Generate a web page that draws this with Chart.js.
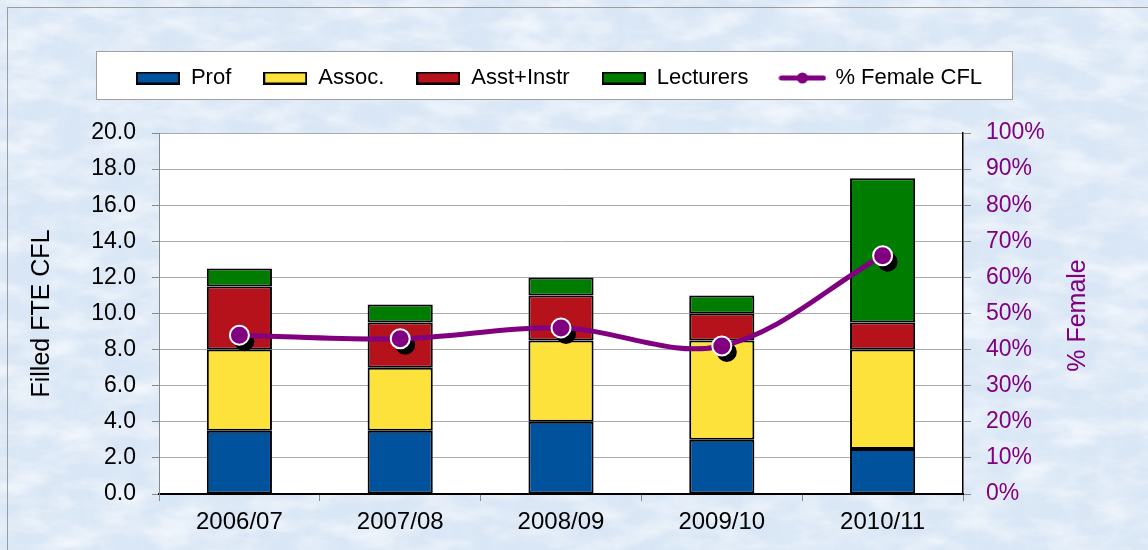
<!DOCTYPE html>
<html>
<head>
<meta charset="utf-8">
<script src="https://cdn.jsdelivr.net/npm/chart.js@4/dist/chart.umd.min.js"></script>
<style>
  html, body { margin: 0; padding: 0; width: 1148px; height: 550px; overflow: hidden; }
  body { background-color: #d9e6f5; position: relative; }
  #frame { position: absolute; left: 7px; top: 7px; width: 1300px; height: 700px;
           border-top: 1px solid #9c9c9c; border-left: 1px solid #9c9c9c; }
  #wrap { position: absolute; left: 0; top: 0; width: 1148px; height: 550px; }
</style>
</head>
<body>
<div id="frame"></div>
<div id="wrap"><canvas id="c" width="1148" height="550"></canvas></div>
<script>
// ---- data ----
const categories = ['2006/07', '2007/08', '2008/09', '2009/10', '2010/11'];
const profValues = [3.5, 3.5, 4.0, 3.0, 2.5];
const assocValues = [4.5, 3.5, 4.5, 5.5, 5.5];
const asstInstrValues = [3.5, 2.5, 2.5, 1.5, 1.5];
const lecturerValues = [1.0, 1.0, 1.0, 1.0, 8.0];
const pctFemaleValues = [44, 43, 46, 41, 66];
const seriesLabels = ['Prof', 'Assoc.', 'Asst+Instr', 'Lecturers', '% Female CFL'];
const leftTickStep = 2, leftMax = 20;
const rightTickStep = 10, rightMax = 100;
const leftTitle = 'Filled FTE CFL';
const rightTitle = '% Female';

// ---- styles ----
const FONT = '"Liberation Sans", Arial, sans-serif';
const colors = ['#00529c', '#fde23c', '#b5121b', '#007d00'];
const purple = '#800080';

// textured background
(function () {
  const svg = "<svg xmlns='http://www.w3.org/2000/svg' width='1148' height='550'>" +
    "<filter id='f'><feTurbulence type='fractalNoise' baseFrequency='0.02 0.05' numOctaves='4' seed='7'/>" +
    "<feColorMatrix type='matrix' values='0 0 0 0 1  0 0 0 0 1  0 0 0 0 1  1.3 0 0 0 -0.5'/></filter>" +
    "<filter id='g'><feTurbulence type='fractalNoise' baseFrequency='0.05 0.02' numOctaves='3' seed='2'/>" +
    "<feColorMatrix type='matrix' values='0 0 0 0 0.74  0 0 0 0 0.84  0 0 0 0 0.95  0 1.2 0 0 -0.5'/></filter>" +
    "<rect width='100%' height='100%' fill='#d9e6f5'/>" +
    "<rect width='100%' height='100%' filter='url(#g)'/>" +
    "<rect width='100%' height='100%' filter='url(#f)'/></svg>";
  document.body.style.backgroundImage = 'url("data:image/svg+xml,' + encodeURIComponent(svg) + '")';
})();

function boxImage(fill) {
  const c = document.createElement('canvas');
  c.width = 44; c.height = 13;
  const x = c.getContext('2d');
  x.fillStyle = fill; x.fillRect(0, 0, 44, 13);
  x.strokeStyle = '#000'; x.lineWidth = 2; x.strokeRect(1, 1, 42, 11);
  return c;
}
function lineImage() {
  const c = document.createElement('canvas');
  c.width = 48; c.height = 14;
  const x = c.getContext('2d');
  x.strokeStyle = purple; x.lineWidth = 5; x.lineCap = 'round';
  x.beginPath(); x.moveTo(3, 7); x.lineTo(45, 7); x.stroke();
  x.fillStyle = purple; x.beginPath(); x.arc(24, 7, 5.5, 0, Math.PI * 2); x.fill();
  return c;
}
const legendImages = [boxImage(colors[0]), boxImage(colors[1]), boxImage(colors[2]), boxImage(colors[3]), lineImage()];

const bgPlugin = {
  id: 'bgPlugin',
  beforeInit(chart) {
    const origFit = chart.legend.fit;
    chart.legend.fit = function () { origFit.call(this); this.height = 98; };
  },
  beforeDraw(chart) {
    const ctx = chart.ctx, a = chart.chartArea;
    ctx.save();
    ctx.fillStyle = '#ffffff';
    ctx.fillRect(a.left, a.top, a.right - a.left, a.bottom - a.top);
    // legend box
    ctx.fillRect(96, 52, 916, 48);
    ctx.strokeStyle = '#a0a0a0'; ctx.lineWidth = 1;
    ctx.strokeRect(96.5, 51.5, 916, 48);
    ctx.restore();
  },
  beforeDatasetDraw(chart, args) {
    if (chart.data.datasets[args.index].type !== 'line') return;
    const ctx = chart.ctx;
    ctx.save();
    ctx.fillStyle = '#000';
    args.meta.data.forEach(p => {
      ctx.beginPath(); ctx.arc(p.x + 5, p.y + 6, 10, 0, Math.PI * 2); ctx.fill();
    });
    ctx.restore();
  },
  afterDraw(chart) {
    const ctx = chart.ctx, a = chart.chartArea;
    ctx.save();
    ctx.translate(1078, (a.top + a.bottom) / 2 + 2);
    ctx.rotate(-Math.PI / 2);
    ctx.fillStyle = purple;
    ctx.font = '25px ' + FONT;
    ctx.textAlign = 'center'; ctx.textBaseline = 'middle';
    ctx.fillText(rightTitle, 0, 0);
    ctx.restore();
  }
};

const barDatasets = [profValues, assocValues, asstInstrValues, lecturerValues].map((vals, i) => ({
  type: 'bar', label: seriesLabels[i], data: vals, backgroundColor: colors[i],
  borderColor: '#000', borderWidth: 2, borderSkipped: false, yAxisID: 'y', order: 1,
  categoryPercentage: 1, barPercentage: 0.405
}));

new Chart(document.getElementById('c'), {
  type: 'bar',
  data: {
    labels: categories,
    datasets: barDatasets.concat([{
      type: 'line', label: seriesLabels[4], data: pctFemaleValues, yAxisID: 'y2', order: 0,
      borderColor: purple, borderWidth: 5, tension: 0.35,
      pointRadius: 9.5, pointHoverRadius: 9.5, pointBackgroundColor: purple,
      pointBorderColor: '#ffffff', pointBorderWidth: 2
    }])
  },
  options: {
    responsive: false, animation: false, devicePixelRatio: 1,
    layout: { padding: { top: 35, left: 0, right: 30, bottom: 0 } },
    plugins: {
      tooltip: { enabled: false },
      legend: {
        position: 'top',
        labels: {
          font: { family: FONT, size: 22 }, color: '#000',
          usePointStyle: true, pointStyleWidth: 44, boxHeight: 13, padding: 32,
          generateLabels(chart) {
            return chart.data.datasets.map((d, i) => ({
              text: d.label, pointStyle: legendImages[i], datasetIndex: i,
              fillStyle: 'transparent', strokeStyle: 'transparent', lineWidth: 0, hidden: false
            }));
          }
        }
      }
    },
    scales: {
      x: {
        stacked: true,
        grid: { drawOnChartArea: false, tickLength: 7, tickColor: '#888', offset: true },
        border: { color: '#000', width: 2 },
        ticks: { font: { family: FONT, size: 24 }, color: '#000', padding: 7, maxRotation: 0 },
        afterFit(s) { s.height = 56; }
      },
      y: {
        stacked: true, position: 'left', min: 0, max: leftMax,
        ticks: { stepSize: leftTickStep, font: { family: FONT, size: 23 }, color: '#000', padding: 16,
                 callback: v => Number(v).toFixed(1) },
        grid: { color: '#ababab', tickLength: 7, tickColor: '#888' },
        border: { color: '#888', width: 1 },
        title: { display: true, text: leftTitle, color: '#000', font: { family: FONT, size: 25 }, padding: { top: 27, bottom: 0 } },
        afterFit(s) { s.width = 159; }
      },
      y2: {
        position: 'right', min: 0, max: rightMax,
        ticks: { stepSize: rightTickStep, font: { family: FONT, size: 23 }, color: purple, padding: 15,
                 callback: v => v + '%' },
        grid: { drawOnChartArea: false, tickLength: 8, tickColor: '#888' },
        border: { color: '#000', width: 1.5 },
        afterFit(s) { s.width = 155; }
      }
    }
  },
  plugins: [bgPlugin]
});
</script>
</body>
</html>
